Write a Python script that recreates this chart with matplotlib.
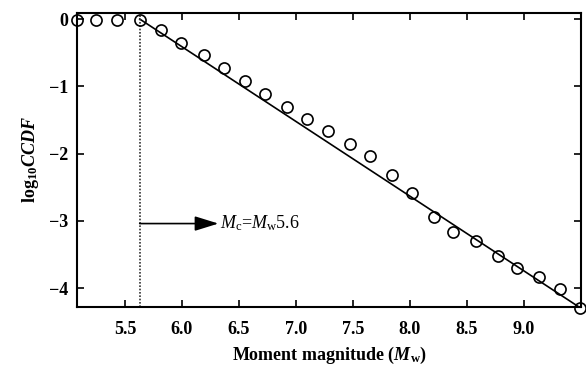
import numpy as np
import matplotlib.pyplot as plt

plt.rcParams['font.family'] = ['Liberation Serif', 'DejaVu Serif']
plt.rcParams['mathtext.fontset'] = 'custom'
plt.rcParams['mathtext.rm'] = 'Liberation Serif'
plt.rcParams['mathtext.it'] = 'Liberation Serif:italic'
plt.rcParams['mathtext.bf'] = 'Liberation Serif:bold'
plt.rcParams['mathtext.bfit'] = 'Liberation Serif:italic:bold'

mw = [5.08, 5.25, 5.43, 5.63, 5.82, 5.99, 6.19, 6.37, 6.55, 6.73, 6.92,
      7.10, 7.28, 7.47, 7.65, 7.84, 8.02, 8.21, 8.38, 8.58, 8.77, 8.94,
      9.13, 9.32, 9.49]
log_ccdf = [-0.01, -0.01, -0.01, -0.01, -0.17, -0.35, -0.54, -0.73, -0.92,
            -1.12, -1.30, -1.48, -1.66, -1.86, -2.04, -2.32, -2.59, -2.94,
            -3.16, -3.30, -3.52, -3.70, -3.83, -4.01, -4.30]

# fitted line
mc = 5.63
fit_x = [mc, 9.5]
fit_y = [0.0, -4.30]

fig = plt.figure(figsize=(5.86, 3.68), dpi=100)
ax = fig.add_axes([0.1314, 0.1658, 0.8601, 0.7989])

ax.plot(fit_x, fit_y, color='black', lw=1.2, zorder=2)
ax.plot(mw, log_ccdf, 'o', mfc='none', mec='black', ms=8, mew=1.2,
        clip_on=False, zorder=3)
ax.axvline(mc, color='#333333', ls=(0, (1, 1)), lw=1.2)
ax.annotate('', xy=(6.32, -3.04), xytext=(mc, -3.04),
            arrowprops=dict(arrowstyle='-|>,head_length=1.45,head_width=0.45',
                            color='black', lw=1.2,
                            mutation_scale=10, shrinkA=0, shrinkB=0))
ax.text(6.33, -3.04, r'$M_{\rm c}$=$M_{\rm w}$5.6', fontsize=13,
        va='center', ha='left')

ax.set_xlim(5.08, 9.5)
ax.set_ylim(-4.28, 0.09)
ax.set_xticks([5.5, 6.0, 6.5, 7.0, 7.5, 8.0, 8.5, 9.0])
ax.set_yticks([0, -1, -2, -3, -4])
ax.set_yticklabels(['0', '\u22121', '\u22122', '\u22123', '\u22124'])
ax.tick_params(direction='in', top=True, right=True, length=5, width=1.2,
               labelsize=13)
ax.tick_params(axis='x', pad=10)
ax.tick_params(axis='y', pad=6)
for lab in ax.get_xticklabels() + ax.get_yticklabels():
    lab.set_fontweight('bold')
for s in ax.spines.values():
    s.set_linewidth(1.5)

ax.set_xlabel(r'Moment magnitude ($\bfit{M}_{\bf w}$)', fontsize=13,
              fontweight='bold', labelpad=5)
ax.set_ylabel(r'$\bf log_{10}$$\bfit{CCDF}$', fontsize=13, labelpad=6)

fig.savefig('out.png', dpi=100)
